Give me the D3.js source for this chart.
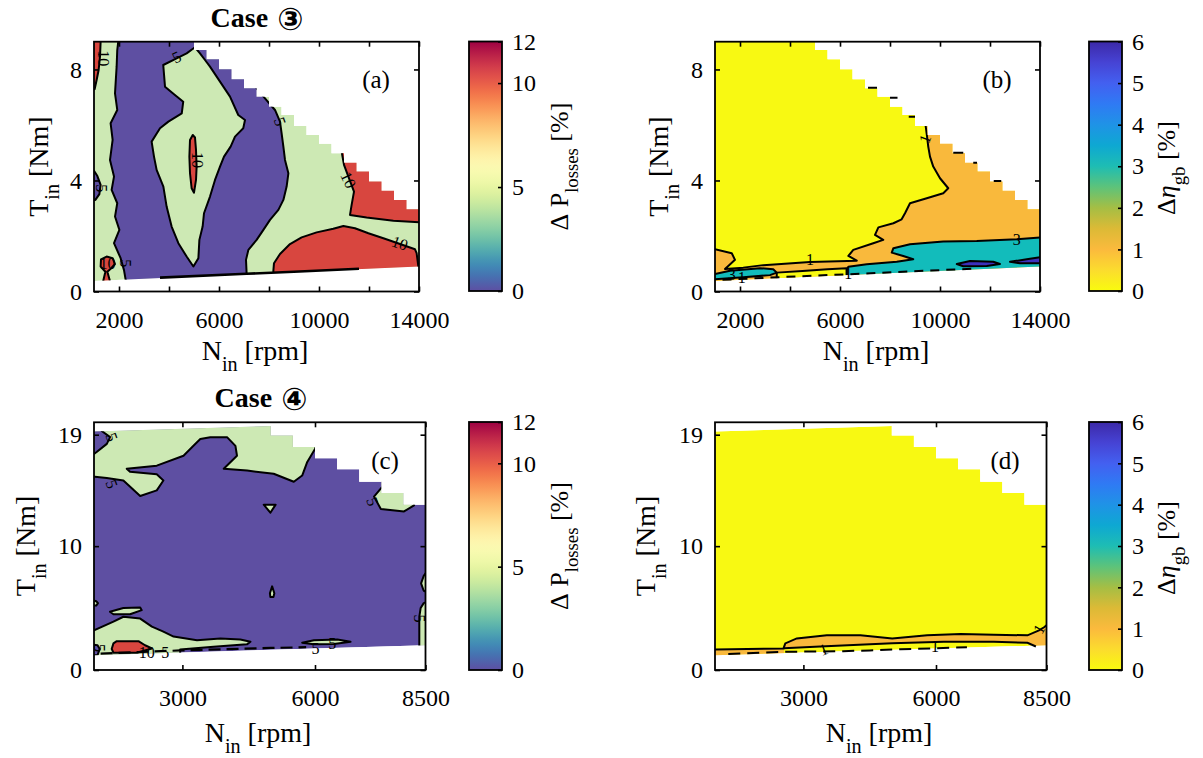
<!DOCTYPE html>
<html><head><meta charset="utf-8">
<script src="https://cdn.jsdelivr.net/npm/d3@7/dist/d3.min.js"></script>
<style>
html,body{margin:0;padding:0;background:#fff;}
svg text{font-family:"Liberation Serif","DejaVu Serif",serif;fill:#000;}
</style></head>
<body>
<svg id="chart" width="1203" height="758" viewBox="0 0 1203 758"></svg>
<script>
// ---------------- tick values ----------------
const topXTicks = [2000, 4000, 6000, 8000, 10000, 12000, 14000];
const topXLabels = [2000, 6000, 10000, 14000];
const topYTicks = [0, 4, 8];
const botXTicks = [3000, 6000, 8500];
const botYTicks = [0, 10, 19];
const lossTicks = [0, 5, 10, 12];
const effTicks = [0, 1, 2, 3, 4, 5, 6];

// ---------------- operating envelopes (speed rpm, torque Nm) ----------------
const topSpeedRange = [1000, 14000];
const topTorqueRange = [0, 9];
const topUpper = [[1000, 9], [5000, 9]];
const topStepSpeed = [5000, 5500, 6000, 6500, 7000, 7500, 8000, 8500, 9000, 9500, 10000, 10500, 11000, 11500, 12000, 12500, 13000, 13500];
const topStepTorque = [8.70, 8.37, 8.01, 7.65, 7.32, 7.02, 6.66, 6.36, 5.96, 5.64, 5.32, 4.98, 4.64, 4.32, 3.96, 3.63, 3.30, 2.96];
const topLower = [[1000, 0.38], [14000, 0.90]];

const botSpeedRange = [1000, 8500];
const botTorqueRange = [0, 20];
const botUpper = [[1000, 19.25], [5000, 19.7]];
const botStepSpeed = [5000, 5500, 6000, 6500, 7000, 7500, 8000];
const botStepTorque = [18.93, 18.0, 17.1, 16.2, 15.2, 14.3, 13.35];
const botLower = [[1000, 1.2], [8500, 2.0]];

// ---------------- (a) Case 3, loss difference contours ----------------
const aPurple = [[1970,9.3],[1970,9.0],[1930,8.70],[1905,8.10],[1840,7.14],[1930,6.54],[1665,6.06],[1745,5.46],[1640,4.74],[1800,4.14],[1705,3.66],[1930,3.18],[1840,2.70],[2015,2.22],[1800,1.74],[2065,1.20],[2200,0.77],[2280,0.35],[2280,0],[7105,0],[7105,0.65],[7080,1.14],[7175,1.50],[7505,1.86],[7775,2.22],[8040,2.58],[8375,2.94],[8575,3.30],[8705,3.78],[8775,4.26],[8640,4.74],[8575,5.22],[8505,5.70],[8440,6.12],[8240,6.54],[7840,6.96],[7505,7.32],[7505,9.3]];
const aIsland = [[5040,8.80],[4705,8.58],[4305,8.40],[3770,8.16],[3840,7.38],[4200,7.11],[4570,6.84],[4510,6.42],[3975,6.12],[3640,5.88],[3305,5.40],[3400,4.86],[3505,4.38],[3775,3.78],[3905,3.06],[4105,2.34],[4375,1.74],[4705,1.26],[4975,0.90],[5175,1.20],[5215,1.86],[5345,2.34],[5400,2.82],[5640,3.42],[5840,4.02],[6040,4.50],[6200,4.86],[6465,5.22],[6640,5.58],[6970,5.88],[7040,6.18],[6770,6.36],[6440,7.02],[6040,7.56],[5640,8.10],[5440,8.34],[5240,8.58]];
const aRedCore = [[4950,5.64],[5040,5.55],[5080,5.10],[5105,4.50],[5080,4.02],[5000,3.56],[4905,3.72],[4840,4.26],[4815,4.86],[4840,5.46]];
const aRedTopLeft = [[850,9.3],[1265,9.3],[1265,9.0],[1240,8.46],[1185,7.98],[1105,7.62],[1025,7.29],[850,7.29]];
const aRedLowLeft = [[1280,1.16],[1505,1.26],[1745,1.20],[1840,0.99],[1680,0.83],[1535,0.71],[1665,0.29],[1345,0.29],[1455,0.71],[1265,0.90]];
const aRedUpRight = [[10865,5.5],[10905,5.04],[11000,4.56],[11175,4.14],[11400,3.60],[11305,3.12],[11240,2.76],[11905,2.67],[12975,2.55],[14200,2.48],[14200,5.5]];
const aRedLowRight = [[8175,0],[8175,0.75],[8200,1.02],[8440,1.35],[8840,1.71],[9305,1.95],[9905,2.13],[10570,2.26],[10975,2.36],[11440,2.28],[11975,2.10],[12575,1.92],[13240,1.71],[13840,1.52],[13905,1.38],[13975,0.90],[14200,0.90],[14200,0]];
const aPurpleEdge = [[850,4.35],[1000,4.35],[1135,4.16],[1265,3.84],[1215,3.51],[1055,3.30],[850,3.30]];
const aBottomLine = [[3640,0.50],[7100,0.64],[9000,0.71],[11600,0.82]];
const aLabels = [
  {t:'10', p:[1375,8.40], r:90}, {t:'5', p:[4305,8.45], r:-25}, {t:'10', p:[5145,4.74], r:90},
  {t:'5', p:[8440,6.12], r:70}, {t:'10', p:[11175,4.02], r:65}, {t:'10', p:[13240,1.74], r:20},
  {t:'10', p:[1535,1.02], r:0}, {t:'5', p:[2255,1.02], r:90}, {t:'5', p:[1305,3.72], r:90}];

// ---------------- (b) Case 3, efficiency difference contours ----------------
const bOrange = [[9420,6.5],[9420,6.0],[9480,5.6],[9530,5.22],[9600,4.86],[9730,4.50],[10000,4.08],[10330,3.72],[10130,3.54],[9470,3.36],[8800,3.18],[8600,2.82],[8465,2.60],[8135,2.46],[7535,2.31],[7400,2.04],[7730,1.86],[7330,1.74],[6530,1.50],[6335,1.28],[6670,1.11],[4800,1.06],[2930,0.95],[2130,0.86],[1400,0.81],[1800,1.14],[1670,1.38],[1000,1.52],[900,1.52],[900,0],[14500,0],[14500,6.5]];
const bCyanLeft = [[900,0.63],[1000,0.63],[1600,0.75],[2800,0.84],[3330,0.80],[3470,0.68],[3200,0.59],[2130,0.51],[1000,0.44],[900,0.44]];
const bYellowLow = [[3470,0.68],[4500,0.74],[5500,0.80],[6270,0.84],[6270,0],[3470,0]];
const bCyan = [[14500,1.95],[14000,1.95],[13070,1.88],[11470,1.82],[10130,1.80],[8800,1.70],[8135,1.56],[8070,1.40],[8530,1.28],[8930,1.16],[8270,1.07],[7070,0.98],[6335,0.89],[6270,0.77],[6270,0],[14500,0]];
const bBlueA = [[10670,0.99],[11200,1.10],[12130,1.07],[12400,0.99],[11870,0.92],[10930,0.91]];
const bBlueB = [[12800,1.07],[13470,1.16],[14000,1.23],[14200,1.25],[14200,1.02],[13200,1.02]];
const bBottomDash = [[1300,0.42],[4400,0.55],[6800,0.64],[8700,0.72],[11500,0.83]];
const bStepDash = [[[7120,7.34],[7480,7.34]],[[8000,6.98],[8300,6.98]],[[8750,6.30],[9000,6.30]],[[10530,5.0],[10930,5.0]],[[11330,4.64],[11480,4.64]],[[12150,3.98],[12450,3.98]]];
const bLabels = [
  {t:'1', p:[9400,5.5], r:-70}, {t:'1', p:[4800,1.17], r:0}, {t:'3', p:[13070,1.86], r:0},
  {t:'1', p:[6330,0.64], r:0}, {t:'3', p:[1670,0.60], r:0}, {t:'1', p:[2070,0.50], r:0}];

// ---------------- (c) Case 4, loss difference contours ----------------
const cGreenTop = [[900,21],[6100,21],[6010,17.9],[5825,16.8],[5710,15.7],[5520,15.2],[5065,15.85],[4465,16.1],[3935,16.25],[4235,17.3],[4200,18.1],[4010,18.8],[3630,18.8],[3405,18.65],[3250,18.1],[3025,17.3],[2420,16.5],[1740,16.25],[1815,16.0],[2420,15.8],[2570,15.3],[2420,14.5],[2045,14.05],[1665,15.3],[1290,15.5],[1020,15.6],[900,15.6]];
const cPurpleCorner = [[900,21],[1175,21],[1175,19.3],[1365,18.8],[1290,18.26],[1060,17.6],[1000,17.45],[900,17.45]];
const cGreenTri = [[4840,13.35],[5110,13.35],[4990,12.7]];
const cGreenDrop = [[5030,6.75],[5080,6.2],[5060,5.9],[4990,5.9],[4980,6.2]];
const cGreenStep = [[7525,15.5],[7525,14.8],[7335,14.0],[7490,13.0],[8015,12.8],[8240,13.3],[8300,15.5]];
const cGreenIsle = [[1360,4.7],[1665,5.0],[2045,5.05],[2080,4.83],[1815,4.5],[1440,4.5]];
const cGreenLow = [[900,3.2],[1000,3.2],[1440,3.9],[1665,4.3],[2045,4.15],[2310,3.5],[2570,3.1],[2800,2.7],[3330,2.4],[3860,2.55],[4310,2.47],[4540,2.28],[4460,2.07],[3705,1.88],[2950,1.66],[2950,0],[900,0]];
const cRed = [[1440,2.15],[1515,2.33],[2005,2.33],[2155,2.0],[2310,1.74],[1970,1.39],[1440,1.39],[1400,1.7]];
const cGreenMid = [[5710,2.2],[5975,2.4],[6505,2.47],[6805,2.28],[6430,2.1],[5975,2.07]];
const cGreenEdge = [[8600,5.6],[8460,5.4],[8390,5.0],[8360,4.3],[8360,2.0],[8370,0],[8600,0]];
const cGreenEdgeUp = [[8600,8.3],[8460,7.6],[8400,7.0],[8460,6.4],[8600,6.2]];
const cGreenNub = [[900,5.7],[1050,5.55],[1090,5.4],[1050,5.2],[900,5.2]];
const cPurpleNook = [[900,2.1],[1080,2.0],[1130,1.7],[1080,1.2],[900,1.2]];
const cBottomDash = [[1150,1.32],[2000,1.45],[2950,1.58],[4000,1.68],[5000,1.78],[5800,1.84]];
const cLabels = [
  {t:'5', p:[1400,18.8], r:70}, {t:'5', p:[1400,15.0], r:70}, {t:'5', p:[7300,13.6], r:70},
  {t:'5', p:[8355,4.16], r:90}, {t:'10', p:[2195,1.45], r:0}, {t:'5', p:[2610,1.42], r:0},
  {t:'5', p:[6010,1.75], r:0}, {t:'5', p:[6390,2.1], r:0}, {t:'5', p:[1135,1.77], r:90}];

// ---------------- (d) Case 4, efficiency difference contours ----------------
const dUpper = [[1000,1.66],[2550,1.74],[2590,2.15],[2850,2.55],[3530,2.8],[4290,2.8],[5010,2.55],[5800,2.8],[6560,2.9],[7310,2.85],[8070,2.8],[8330,3.2],[8445,3.45],[8500,3.6]];
const dLower = [[2560,1.76],[3380,1.9],[5010,2.15],[6180,2.28],[7310,2.28],[8070,2.2],[8260,1.9]];
const dDash = [[1300,1.29],[2600,1.47],[3900,1.52],[4500,1.58],[5200,1.67],[6700,1.84]];
const dLabels = [{t:'1', p:[3455,1.66], r:-20}, {t:'1', p:[5980,1.87], r:0}, {t:'1', p:[8330,3.3], r:-60}];

// ---------------- colours (style) ----------------
const lossFill = {low:'#5e4fa2', mid:'#cde9b4', high:'#d8463f'};
const effFill = {low:'#f8f912', one:'#f9b93c', three:'#12bcbb', five:'#3c30bc'};
const effStops = [[0,'#f9fb0e'],[0.5,'#fbdc2e'],[1,'#fbba3d'],[1.5,'#dcba36'],[2,'#a5be44'],[2.5,'#5dc37a'],[3,'#1ebdb3'],[3.5,'#0ea8d2'],[4,'#1f93e6'],[4.5,'#2f7af4'],[5,'#4360f0'],[5.5,'#4643d4'],[6,'#3c29a8']];

const svg = d3.select('#chart');
const defs = svg.append('defs');

// gradients for colorbars
const gLoss = defs.append('linearGradient').attr('id','gLoss').attr('x1',0).attr('y1',1).attr('x2',0).attr('y2',0);
d3.range(0, 12.001, 0.25).forEach(v => gLoss.append('stop').attr('offset', v/12).attr('stop-color', d3.interpolateSpectral(1 - v/12)));
const gEff = defs.append('linearGradient').attr('id','gEff').attr('x1',0).attr('y1',1).attr('x2',0).attr('y2',0);
effStops.forEach(s => gEff.append('stop').attr('offset', s[0]/6).attr('stop-color', s[1]));

const fmt = d3.format('d');
const SERIF = 'Liberation Serif';

function drawPanel(p) {
  const x = d3.scaleLinear().domain(p.xDom).range([p.L, p.R]);
  const y = d3.scaleLinear().domain(p.yDom).range([p.B, p.T]);
  const line = d3.line().x(d => x(d[0])).y(d => y(d[1]));
  const env = [p.lower[0], p.lower[1]];
  for (let i = p.stepSpeed.length - 1; i >= 0; i--) {
    env.push([p.stepSpeed[i] + 500, p.stepTorque[i]]);
    env.push([p.stepSpeed[i], p.stepTorque[i]]);
  }
  env.push(p.upper[1], p.upper[0]);
  defs.append('clipPath').attr('id', p.id + 'Env').append('path').attr('d', line(env) + 'Z');
  defs.append('clipPath').attr('id', p.id + 'Box').append('rect')
    .attr('x', p.L).attr('y', p.T).attr('width', p.R - p.L).attr('height', p.B - p.T);

  const gEnv = svg.append('g').attr('clip-path', `url(#${p.id}Env)`);
  gEnv.append('path').attr('d', line(env) + 'Z').attr('fill', p.base);
  p.regions.forEach(r => gEnv.append('path').attr('d', line(r.pts) + 'Z').attr('fill', r.fill));
  p.regions.filter(r => r.edge !== false).forEach(r =>
    gEnv.append('path').attr('d', line(r.pts) + 'Z').attr('fill', 'none')
      .attr('stroke', '#000').attr('stroke-width', 2).attr('stroke-linejoin', 'round'));

  const gBox = svg.append('g').attr('clip-path', `url(#${p.id}Box)`);
  p.lines.forEach(l => gBox.append('path').attr('d', line(l.pts)).attr('fill', 'none')
    .attr('stroke', '#000').attr('stroke-width', l.w || 2)
    .attr('stroke-dasharray', l.dash ? l.dash : null));

  p.labels.forEach(lb => gBox.append('text')
    .attr('transform', `translate(${x(lb.p[0])},${y(lb.p[1])}) rotate(${lb.r || 0})`)
    .attr('text-anchor', 'middle').attr('dominant-baseline', 'central')
    .attr('font-size', 16).text(lb.t));

  // axes (inward ticks on all sides)
  const ax = svg.append('g');
  ax.append('g').attr('transform', `translate(0,${p.B})`)
    .call(d3.axisBottom(x).tickValues(p.xTicks).tickSize(-5).tickPadding(19)
      .tickFormat(v => p.xLabels.includes(v) ? fmt(v) : ''));
  ax.append('g').attr('transform', `translate(0,${p.T})`)
    .call(d3.axisTop(x).tickValues(p.xTicks).tickSize(-5).tickFormat(''));
  ax.append('g').attr('transform', `translate(${p.L},0)`)
    .call(d3.axisLeft(y).tickValues(p.yTicks).tickSize(-5).tickPadding(12).tickFormat(fmt));
  ax.append('g').attr('transform', `translate(${p.R},0)`)
    .call(d3.axisRight(y).tickValues(p.yTicks).tickSize(-5).tickFormat(''));
  ax.selectAll('.domain').remove();
  ax.selectAll('.tick line').attr('stroke', '#000').attr('stroke-width', 1.6);
  ax.selectAll('.tick text').attr('font-size', 24).attr('font-family', SERIF).attr('fill', '#000');
  ax.append('rect').attr('x', p.L).attr('y', p.T).attr('width', p.R - p.L).attr('height', p.B - p.T)
    .attr('fill', 'none').attr('stroke', '#000').attr('stroke-width', 1.8);

  svg.append('text').attr('x', p.letterX).attr('y', p.letterY).attr('text-anchor', 'middle')
    .attr('font-size', 25).text(p.letter);
}

function drawColorbar(c) {
  const y = d3.scaleLinear().domain(c.dom).range([c.B, c.T]);
  svg.append('rect').attr('x', c.L).attr('y', c.T).attr('width', c.R - c.L).attr('height', c.B - c.T)
    .attr('fill', `url(#${c.grad})`).attr('stroke', '#000').attr('stroke-width', 1.8);
  const g = svg.append('g').attr('transform', `translate(${c.R},0)`)
    .call(d3.axisRight(y).tickValues(c.ticks).tickSize(-4).tickPadding(10).tickFormat(fmt));
  g.select('.domain').remove();
  g.selectAll('.tick line').attr('stroke', '#000').attr('stroke-width', 1.6);
  g.selectAll('.tick text').attr('font-size', 24).attr('font-family', SERIF).attr('fill', '#000');
}

function richText(x0, y0, rot, parts, size) {
  const t = svg.append('text').attr('transform', `translate(${x0},${y0}) rotate(${rot})`)
    .attr('text-anchor', 'middle').attr('font-size', size);
  let shift = 0;
  parts.forEach(pt => {
    const s = t.append('tspan').text(pt.t);
    const want = pt.sub ? size * 0.4 : 0;
    s.attr('dy', want - shift); shift = want;
    if (pt.sub) s.attr('font-size', size * 0.72);
    if (pt.it) s.attr('font-style', 'italic');
  });
}

const topBox = {L:94, R:419, T:41.7, B:291.5};
const botBox = {T:422.3, B:670};

drawPanel({id:'a', ...topBox, xDom:topSpeedRange, yDom:topTorqueRange, upper:topUpper, stepSpeed:topStepSpeed, stepTorque:topStepTorque, lower:topLower,
  base:lossFill.mid, xTicks:topXTicks, xLabels:topXLabels, yTicks:topYTicks, letter:'(a)', letterX:376, letterY:88,
  regions:[{pts:aPurple, fill:lossFill.low},{pts:aIsland, fill:lossFill.mid},{pts:aRedCore, fill:lossFill.high},
    {pts:aRedTopLeft, fill:lossFill.high},{pts:aRedLowLeft, fill:lossFill.high},{pts:aRedUpRight, fill:lossFill.high},
    {pts:aRedLowRight, fill:lossFill.high},{pts:aPurpleEdge, fill:lossFill.low}],
  lines:[{pts:aBottomLine, w:2.6}], labels:aLabels});

drawPanel({id:'b', L:715, R:1040, T:41.7, B:291.5, xDom:topSpeedRange, yDom:topTorqueRange, upper:topUpper, stepSpeed:topStepSpeed, stepTorque:topStepTorque, lower:topLower,
  base:effFill.low, xTicks:topXTicks, xLabels:topXLabels, yTicks:topYTicks, letter:'(b)', letterX:997, letterY:88,
  regions:[{pts:bOrange, fill:effFill.one},{pts:bCyanLeft, fill:effFill.three},{pts:bYellowLow, fill:effFill.low},
    {pts:bCyan, fill:effFill.three},{pts:bBlueA, fill:effFill.five},{pts:bBlueB, fill:effFill.five}],
  lines:[{pts:bBottomDash, dash:'9,7'}].concat(bStepDash.map(s => ({pts:s}))), labels:bLabels});

drawPanel({id:'c', L:94, R:425.5, ...botBox, xDom:botSpeedRange, yDom:botTorqueRange, upper:botUpper, stepSpeed:botStepSpeed, stepTorque:botStepTorque, lower:botLower,
  base:lossFill.low, xTicks:botXTicks, xLabels:botXTicks, yTicks:botYTicks, letter:'(c)', letterX:385, letterY:469,
  regions:[{pts:cGreenTop, fill:lossFill.mid},{pts:cPurpleCorner, fill:lossFill.low},{pts:cGreenTri, fill:lossFill.mid},
    {pts:cGreenDrop, fill:lossFill.mid},{pts:cGreenStep, fill:lossFill.mid},{pts:cGreenIsle, fill:lossFill.mid},
    {pts:cGreenLow, fill:lossFill.mid},{pts:cRed, fill:lossFill.high},{pts:cGreenMid, fill:lossFill.mid},
    {pts:cGreenEdge, fill:lossFill.mid},{pts:cGreenEdgeUp, fill:lossFill.mid},{pts:cGreenNub, fill:lossFill.mid},
    {pts:cPurpleNook, fill:lossFill.low}],
  lines:[{pts:cBottomDash, dash:'12,6', w:2.2}], labels:cLabels});

const dOrange = [[900, dUpper[0][1]]].concat(dUpper, [[8600, dUpper[dUpper.length-1][1]], [8600, 0], [dLower[dLower.length-1][0], 0]],
  dLower.slice().reverse(), [[dLower[0][0], 0], [900, 0]]);
drawPanel({id:'d', L:715, R:1046.5, ...botBox, xDom:botSpeedRange, yDom:botTorqueRange, upper:botUpper, stepSpeed:botStepSpeed, stepTorque:botStepTorque, lower:botLower,
  base:effFill.low, xTicks:botXTicks, xLabels:botXTicks, yTicks:botYTicks, letter:'(d)', letterX:1005, letterY:469,
  regions:[{pts:dOrange, fill:effFill.one, edge:false}],
  lines:[{pts:dUpper},{pts:dLower},{pts:dDash, dash:'12,7'}], labels:dLabels});

drawColorbar({L:469, R:502, T:41.5, B:291, dom:[0,12], ticks:lossTicks, grad:'gLoss'});
drawColorbar({L:1089, R:1122, T:41.5, B:291, dom:[0,6], ticks:effTicks, grad:'gEff'});
drawColorbar({L:469, R:502, T:422, B:670, dom:[0,12], ticks:lossTicks, grad:'gLoss'});
drawColorbar({L:1089, R:1122, T:422, B:670, dom:[0,6], ticks:effTicks, grad:'gEff'});

// axis titles
const yTitle = [{t:'T'},{t:'in', sub:true},{t:'\u00a0[Nm]'}];
const xTitle = [{t:'N'},{t:'in', sub:true},{t:'\u00a0[rpm]'}];
const lossTitle = [{t:'\u0394\u00a0P'},{t:'losses', sub:true},{t:'\u00a0[%]'}];
const effTitle = [{t:'\u0394'},{t:'\u03b7', it:true},{t:'gb', sub:true},{t:'\u00a0[%]'}];
richText(48, 166.6, -90, yTitle, 28);
richText(668, 166.6, -90, yTitle, 28);
richText(35, 546, -90, yTitle, 28);
richText(655, 546, -90, yTitle, 28);
richText(255, 360, 0, xTitle, 28);
richText(876, 360, 0, xTitle, 28);
richText(258, 742, 0, xTitle, 28);
richText(879, 742, 0, xTitle, 28);
richText(568, 166.6, -90, lossTitle, 26);
richText(568, 546, -90, lossTitle, 26);
richText(1175, 168, -90, effTitle, 26);
richText(1175, 548, -90, effTitle, 26);

// case titles
function caseTitle(x0, y0, mark) {
  const t = svg.append('text').attr('x', x0).attr('y', y0).attr('text-anchor', 'middle')
    .attr('font-size', 28).attr('font-weight', 'bold');
  t.append('tspan').text('Case');
  t.append('tspan').attr('dx', 9).attr('dy', 3).attr('font-family', "'DejaVu Sans','Noto Sans CJK JP'").attr('font-size', 31).text(mark);
}
caseTitle(257, 27, '\u2462');
caseTitle(261, 407, '\u2463');
</script>
</body></html>
